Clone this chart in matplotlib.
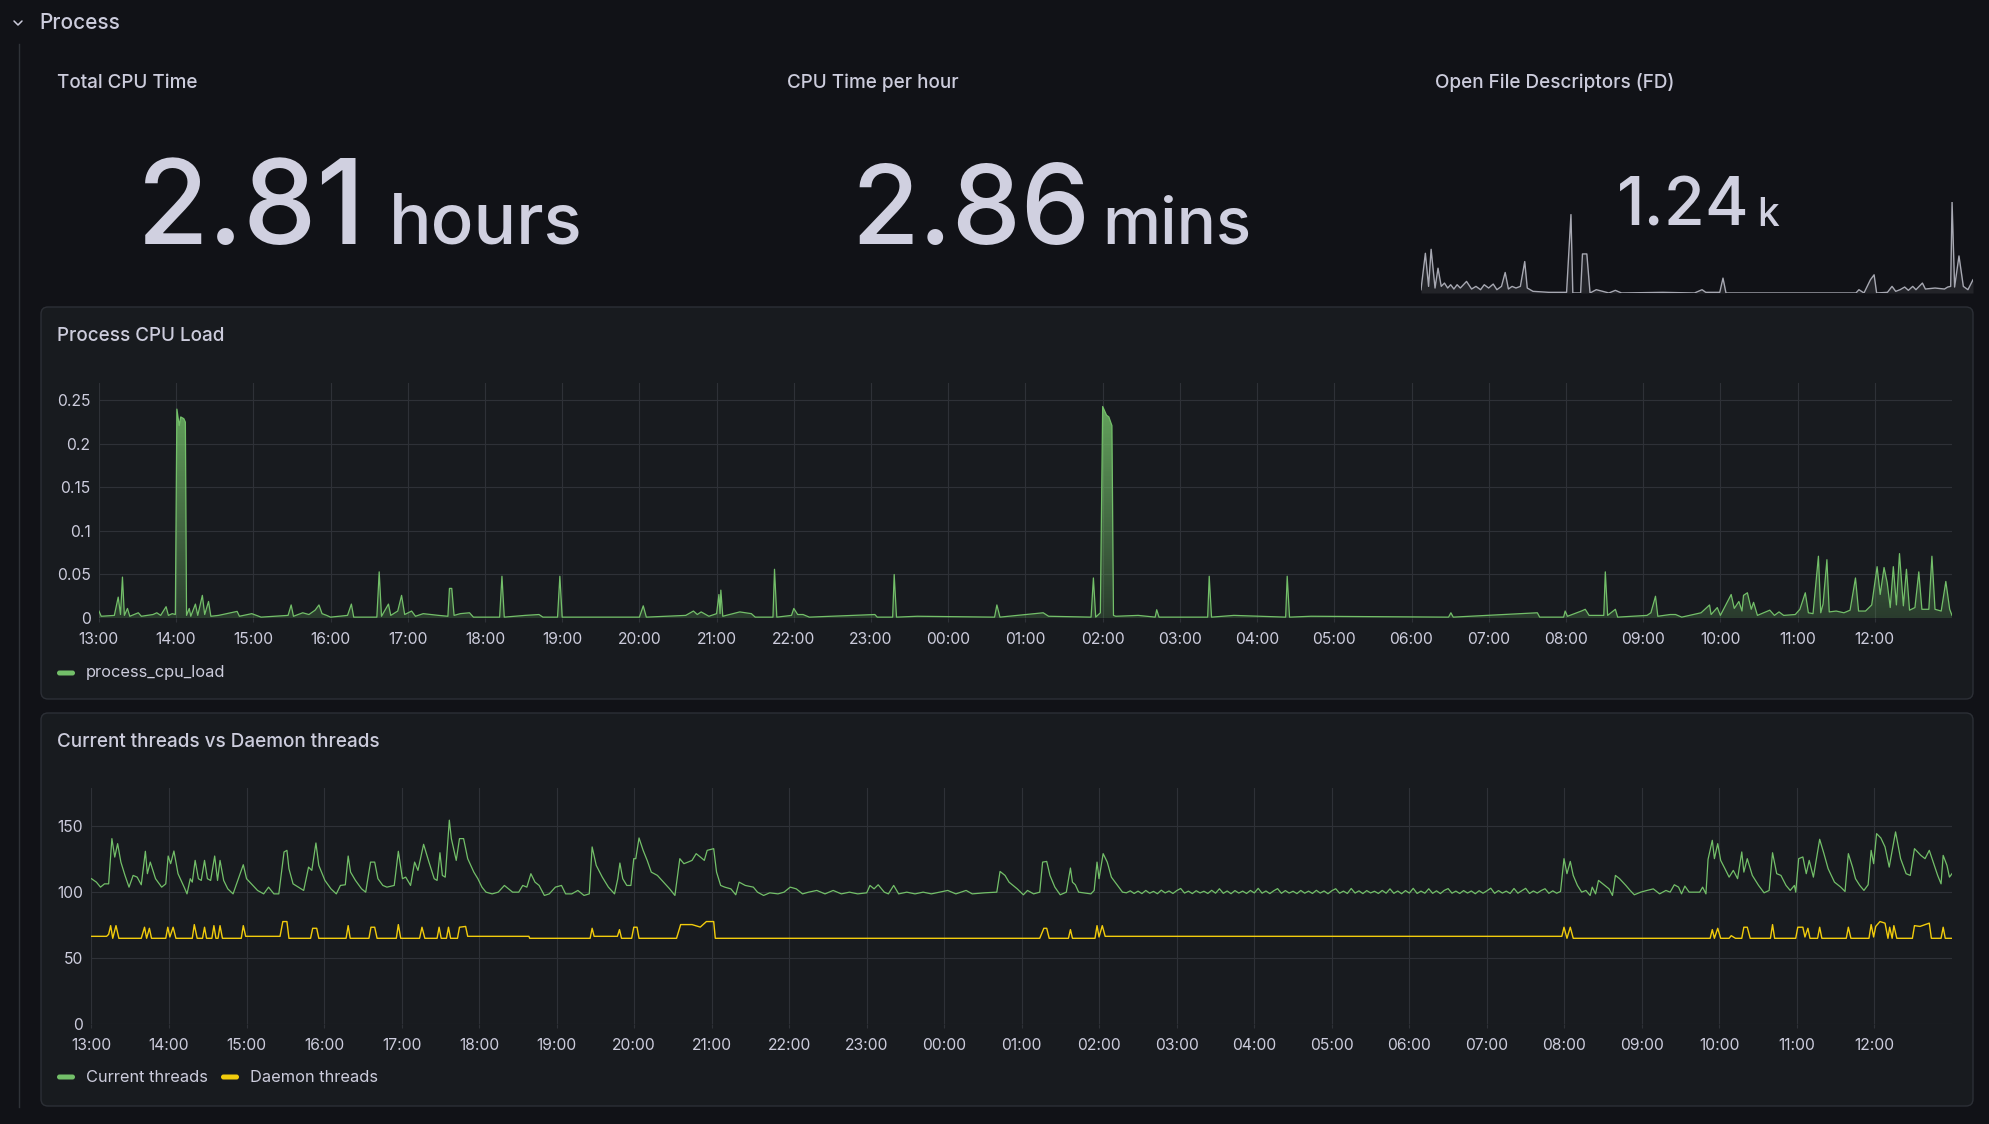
import numpy as np
import matplotlib
matplotlib.use("Agg")
import matplotlib.pyplot as plt
from matplotlib.patches import FancyBboxPatch

plt.rcParams['font.family'] = ['Inter', 'DejaVu Sans']

# ---------------- data ----------------
hour_labels = ["13:00", "14:00", "15:00", "16:00", "17:00", "18:00", "19:00", "20:00",
               "21:00", "22:00", "23:00", "00:00", "01:00", "02:00", "03:00", "04:00",
               "05:00", "06:00", "07:00", "08:00", "09:00", "10:00", "11:00", "12:00"]

total_cpu_time = 2.81      # hours
cpu_time_per_hour = 2.86   # mins

# Open file descriptors sparkline (hours since 13:00, count)
fd_hours = [0.00, 0.19, 0.33, 0.44, 0.61, 0.74, 0.88, 1.02, 1.16, 1.29, 1.43, 1.57, 1.71, 1.98,
            2.20, 2.39, 2.59, 2.75, 2.94, 3.14, 3.30, 3.50, 3.66, 3.80, 3.96, 4.13, 4.32, 4.51,
            4.62, 4.87, 5.56, 6.33, 6.52, 6.60, 6.94, 7.02, 7.21, 7.35, 7.62, 7.90, 8.17, 8.45,
            8.72, 10.51, 11.89, 12.22, 12.38, 12.99, 13.13, 13.26, 14.64, 17.39, 18.91, 19.04,
            19.26, 19.54, 19.70, 19.81, 20.28, 20.48, 20.64, 20.83, 21.03, 21.19, 21.38, 21.52,
            21.80, 21.93, 22.35, 22.76, 22.90, 23.03, 23.09, 23.20, 23.39, 23.58, 23.78, 24.00]
fd_values = [1060, 1720, 1120, 1792, 1090, 1450, 1120, 1180, 1090, 1150, 1072, 1150, 1090, 1210,
             1072, 1120, 1060, 1150, 1090, 1162, 1060, 1120, 1372, 1072, 1120, 1090, 1120, 1570,
             1090, 1030, 1012, 1012, 2422, 1000, 1000, 1708, 1708, 1000, 1060, 1030, 1000, 1048,
             1000, 1012, 1000, 1060, 1012, 1012, 1270, 1000, 1000, 1000, 1000, 1060,
             1000, 1240, 1330, 1000, 1012, 1120, 1030, 1060, 1108, 1048, 1120, 1060,
             1180, 1072, 1090, 1072, 1108, 1120, 2650, 1108, 1672, 1120, 1060, 1240]

# Process CPU load (hours since 13:00, load)
cpu_hours = [0.00, 0.03, 0.20, 0.25, 0.28, 0.305, 0.33, 0.37, 0.40, 0.51, 0.55, 0.70, 0.75, 0.80,
             0.87, 0.90, 0.95, 0.99, 1.01, 1.04, 1.06, 1.10, 1.12, 1.135, 1.17, 1.19, 1.25, 1.28,
             1.34, 1.37, 1.42, 1.45, 1.55, 1.79, 1.82, 1.98, 2.10, 2.45, 2.49, 2.52, 2.64, 2.72,
             2.80, 2.85, 2.89, 2.95, 3.00, 3.22, 3.27, 3.30, 3.60, 3.63, 3.66, 3.75, 3.78, 3.87,
             3.92, 3.96, 4.05, 4.10, 4.20, 4.30, 4.40, 4.52, 4.54, 4.57, 4.60, 4.68, 4.80, 4.85,
             5.19, 5.22, 5.25, 5.52, 5.70, 5.75, 5.94, 5.97, 6.00, 7.00, 7.05, 7.09, 7.60, 7.70,
             7.75, 7.80, 7.90, 8.00, 8.03, 8.045, 8.055, 8.08, 8.30, 8.45, 8.50, 8.73, 8.75, 8.78,
             8.97, 9.00, 9.05, 9.12, 9.20, 10.05, 10.08, 10.28, 10.30, 10.33, 10.60, 11.60, 11.63,
             11.67, 12.23, 12.30, 12.85, 12.88, 12.91, 12.97, 13.00, 13.05, 13.08, 13.12, 13.14,
             13.17, 13.46, 13.68, 13.70, 13.73, 14.36, 14.38, 14.41, 14.70, 15.37, 15.39, 15.42,
             15.70, 17.48, 17.51, 17.54, 18.63, 18.66, 18.97, 18.99, 19.02, 19.08, 19.20, 19.25,
             19.30, 19.49, 19.51, 19.54, 19.64, 19.67, 20.05, 20.10, 20.16, 20.19, 20.35, 20.42,
             20.50, 20.75, 20.86, 20.88, 20.96, 21.00, 21.14, 21.18, 21.24, 21.28, 21.30, 21.35,
             21.40, 21.43, 21.48, 21.64, 21.70, 21.76, 21.82, 21.97, 22.03, 22.10, 22.14, 22.20,
             22.27, 22.30, 22.33, 22.38, 22.41, 22.50, 22.60, 22.68, 22.75, 22.79, 22.88, 22.96,
             23.03, 23.07, 23.12, 23.16, 23.20, 23.24, 23.28, 23.32, 23.37, 23.41, 23.45, 23.52,
             23.57, 23.61, 23.70, 23.74, 23.78, 23.86, 23.92, 23.97, 24.00]
cpu_load = [0.008, 0.002, 0.003, 0.024, 0.004, 0.047, 0.003, 0.011, 0.002, 0.006, 0.002, 0.004, 0.006, 0.003,
            0.013, 0.003, 0.005, 0.004, 0.240, 0.221, 0.231, 0.229, 0.225, 0.003, 0.011, 0.002, 0.016, 0.003,
            0.026, 0.004, 0.019, 0.002, 0.003, 0.0076, 0.002, 0.005, 0.001, 0.003, 0.015, 0.002, 0.006, 0.004,
            0.009, 0.015, 0.005, 0.003, 0.001, 0.003, 0.016, 0.001, 0.001, 0.053, 0.002, 0.016, 0.003, 0.008,
            0.026, 0.004, 0.008, 0.002, 0.005, 0.004, 0.003, 0.002, 0.034, 0.034, 0.003, 0.005, 0.006, 0.001,
            0.001, 0.048, 0.001, 0.003, 0.004, 0.001, 0.001, 0.048, 0.001, 0.001, 0.014, 0.001, 0.003, 0.008,
            0.004, 0.007, 0.002, 0.005, 0.027, 0.005, 0.032, 0.002, 0.007, 0.005, 0.001, 0.001, 0.056, 0.001,
            0.003, 0.011, 0.004, 0.004, 0.001, 0.004, 0.001, 0.001, 0.050, 0.001, 0.002, 0.001, 0.015,
            0.001, 0.006, 0.002, 0.001, 0.046, 0.001, 0.006, 0.243, 0.233, 0.231, 0.221, 0.003,
            0.002, 0.003, 0.001, 0.0095, 0.001, 0.001, 0.048, 0.001, 0.003, 0.001, 0.048, 0.001,
            0.002, 0.001, 0.006, 0.001, 0.006, 0.001, 0.001, 0.008, 0.002, 0.004, 0.008, 0.010,
            0.003, 0.003, 0.053, 0.003, 0.010, 0.001, 0.003, 0.006, 0.025, 0.002, 0.004, 0.004,
            0.001, 0.006, 0.015, 0.004, 0.012, 0.003, 0.027, 0.011, 0.019, 0.008, 0.026, 0.029,
            0.010, 0.018, 0.003, 0.009, 0.003, 0.007, 0.003, 0.004, 0.010, 0.029, 0.006, 0.005,
            0.071, 0.006, 0.016, 0.067, 0.007, 0.008, 0.006, 0.009, 0.046, 0.008, 0.008, 0.015,
            0.059, 0.027, 0.058, 0.041, 0.012, 0.059, 0.015, 0.074, 0.014, 0.056, 0.009, 0.012,
            0.053, 0.010, 0.010, 0.071, 0.010, 0.008, 0.042, 0.010, 0.003]

# Current threads (hours since 13:00, count) -- busy stretches
cur_hours_a = [0.000, 0.063, 0.116, 0.168, 0.221, 0.263, 0.300, 0.337, 0.379, 0.432, 0.484, 0.537,
               0.589, 0.642, 0.695, 0.721, 0.758, 0.826, 0.905, 0.958, 0.989, 1.021, 1.063, 1.116,
               1.195, 1.232, 1.274, 1.300, 1.337, 1.379, 1.416, 1.458, 1.495, 1.537, 1.589, 1.626,
               1.658, 1.705, 1.758, 1.826, 1.879, 1.958, 2.000, 2.063, 2.142, 2.221, 2.284, 2.353,
               2.416, 2.484, 2.521, 2.547, 2.600, 2.668, 2.737, 2.800, 2.842, 2.895, 2.932, 3.011,
               3.089, 3.158, 3.211, 3.274, 3.311, 3.342, 3.405, 3.484, 3.537, 3.600, 3.653, 3.695,
               3.758, 3.811, 3.905, 3.958, 4.011, 4.053, 4.116, 4.168, 4.211, 4.284, 4.353, 4.421,
               4.458, 4.495, 4.526, 4.563, 4.616, 4.642, 4.705, 4.747, 4.800, 4.853, 4.932, 4.984,
               5.037, 5.089, 5.168, 5.247, 5.326, 5.379, 5.432, 5.511, 5.563, 5.616, 5.668, 5.721,
               5.774, 5.842, 5.905, 5.984, 6.063, 6.116, 6.195, 6.274, 6.353, 6.421, 6.458, 6.511,
               6.589, 6.668, 6.747, 6.789, 6.816, 6.853, 6.905, 6.958, 6.995, 7.021, 7.063, 7.116,
               7.168, 7.221, 7.300, 7.379, 7.458, 7.526, 7.589, 7.642, 7.695, 7.747, 7.800, 7.853,
               7.905, 7.942, 8.026, 8.063, 8.116, 8.169, 8.248, 8.311, 8.354, 8.433, 8.538, 8.591,
               8.670, 8.749, 8.855, 8.934, 9.013, 9.092, 9.172, 9.251, 9.356, 9.462, 9.567, 9.673,
               9.778, 9.884, 10.000, 10.042, 10.095, 10.148, 10.227, 10.280, 10.348, 10.412, 10.517,
               10.623, 10.728, 10.834, 10.939, 11.045, 11.150, 11.282, 11.361, 11.520, 11.678, 11.720,
               11.784, 11.836, 11.889, 11.942, 12.021, 12.074, 12.153, 12.232, 12.269, 12.322, 12.364,
               12.427, 12.496, 12.575, 12.628, 12.654, 12.691, 12.734, 12.892, 12.934, 12.971, 12.997,
               13.050, 13.103, 13.156, 13.235, 13.300]
cur_values_a = [110.2, 107.6, 103.8, 106.3, 106.3, 140.6, 126.6, 136.8, 122.8, 112.7, 103.8, 112.7,
                111.4, 105.6, 131.0, 114.0, 122.8, 110.2, 103.8, 106.3, 127.4, 121.6, 131.2, 114.0,
                103.8, 98.7, 110.2, 107.6, 124.1, 110.2, 108.9, 124.1, 110.2, 108.9, 127.4, 108.9,
                124.1, 108.9, 102.5, 98.7, 107.6, 120.8, 110.2, 106.3, 101.3, 98.7, 103.8, 98.7,
                98.7, 130.5, 131.7, 117.8, 106.3, 103.8, 101.3, 119.0, 116.5, 137.3, 120.3, 108.9,
                102.5, 98.7, 105.1, 105.6, 127.4, 115.2, 108.9, 102.5, 100.0, 122.8, 122.8, 110.2,
                105.1, 103.8, 105.1, 131.0, 110.2, 111.4, 105.1, 122.8, 116.5, 136.3, 122.8, 110.2,
                108.9, 129.9, 112.7, 111.4, 154.6, 140.6, 124.1, 140.6, 140.6, 125.4, 115.2, 110.2,
                103.8, 100.0, 98.7, 100.0, 105.1, 102.5, 100.0, 100.0, 105.1, 103.8, 114.0, 107.6,
                105.1, 97.5, 98.7, 103.8, 105.1, 98.7, 98.7, 101.3, 97.5, 98.7, 134.3, 120.3,
                111.4, 103.8, 98.7, 110.2, 122.1, 110.2, 105.1, 105.1, 125.4, 125.4, 141.1, 131.7,
                124.1, 115.2, 112.7, 107.6, 102.5, 97.5, 125.4, 121.6, 122.8, 124.1, 129.2, 126.7,
                124.1, 131.7, 133.0, 115.2, 105.1, 103.8, 102.5, 98.0, 107.6, 105.1, 103.8, 100.0,
                97.5, 99.5, 98.7, 100.0, 103.8, 102.5, 98.7, 100.0, 101.3, 98.7, 101.3, 98.7,
                100.0, 98.7, 99.5, 105.1, 102.5, 105.6, 100.0, 98.7, 105.1, 98.7, 100.0,
                98.7, 100.0, 98.7, 100.0, 101.3, 98.7, 101.3, 98.7, 99.5, 100.0, 115.7,
                112.7, 107.6, 105.1, 102.5, 98.0, 101.3, 98.7, 100.0, 122.8, 123.3, 112.7,
                103.8, 98.0, 100.0, 118.3, 107.6, 105.6, 100.0, 98.7, 101.3, 122.8, 110.2,
                129.2, 122.8, 111.4, 105.1, 100.0]
# quiet stretch 02:21 - 07:57, sampled every 3 minutes
cur_quiet_start = 13.35
cur_quiet_step = 0.05
cur_quiet_values = [99.5, 101.0, 99.0, 100.8, 98.9, 101.3, 99.2, 100.6, 98.8, 101.5, 99.4, 100.9, 99.0, 101.2,
                    102.8, 99.3, 100.8, 98.9, 101.1, 99.4, 100.7, 99.0, 101.4, 99.2, 102.6, 99.1, 100.9, 98.8,
                    101.2, 99.3, 100.8, 99.0, 101.3, 99.4, 102.9, 99.2, 100.9, 98.9, 101.0, 102.7, 99.1, 101.2,
                    99.3, 100.7, 98.9, 101.3, 99.2, 100.8, 99.0, 101.4, 99.3, 100.9, 98.8, 101.1, 102.6, 99.2,
                    100.8, 99.0, 102.8, 99.3, 101.0, 98.9, 101.2, 99.4, 100.7, 99.0, 101.3, 99.2, 102.5, 99.1,
                    100.9, 98.8, 101.2, 99.3, 102.9, 99.0, 100.8, 99.2, 102.6, 99.1, 101.0, 98.9, 101.3, 102.7,
                    99.2, 100.8, 99.0, 101.2, 99.3, 100.9, 98.8, 101.1, 99.2, 101.0, 103.0, 99.1, 101.2, 99.3,
                    100.8, 99.0, 102.8, 99.2, 101.1, 102.9, 99.0, 100.9, 99.3, 101.2, 102.6, 99.1, 101.0, 99.2,
                    100.5]
cur_hours_b = [18.995, 19.033, 19.076, 19.114, 19.168, 19.223, 19.277, 19.332, 19.359, 19.402, 19.440,
               19.495, 19.576, 19.620, 19.658, 19.712, 19.793, 19.848, 19.902, 19.984, 20.065, 20.147,
               20.228, 20.310, 20.364, 20.418, 20.473, 20.511, 20.554, 20.609, 20.745, 20.783, 20.826,
               20.853, 20.908, 20.935, 20.978, 21.016, 21.071, 21.125, 21.179, 21.234, 21.288, 21.315,
               21.359, 21.424, 21.505, 21.576, 21.641, 21.685, 21.739, 21.793, 21.859, 21.913, 21.967,
               21.984, 22.022, 22.076, 22.120, 22.158, 22.212, 22.293, 22.348, 22.402, 22.484, 22.565,
               22.620, 22.663, 22.717, 22.755, 22.810, 22.864, 22.918, 22.957, 22.989, 23.027, 23.082,
               23.136, 23.190, 23.272, 23.337, 23.408, 23.462, 23.516, 23.598, 23.652, 23.707, 23.750,
               23.815, 23.859, 23.886, 23.935, 23.967, 24.000]
cur_values_b = [125.4, 114.0, 123.3, 112.7, 105.1, 100.0, 101.3, 97.5, 103.8, 98.7, 108.9,
                106.3, 102.5, 97.5, 112.7, 110.2, 105.1, 101.3, 98.0, 100.0, 101.3, 102.5,
                98.7, 101.3, 100.0, 105.6, 103.8, 98.7, 104.6, 100.0, 100.0, 103.8, 98.7,
                124.9, 139.3, 125.4, 136.8, 124.1, 117.8, 111.4, 116.5, 110.2, 130.5, 115.2,
                125.4, 112.7, 105.1, 99.5, 101.3, 129.9, 114.0, 112.7, 105.1, 101.3, 105.1,
                100.0, 125.4, 126.7, 114.0, 124.1, 111.4, 140.1, 129.2, 117.8, 107.6, 103.8,
                100.5, 129.2, 119.0, 110.2, 105.1, 101.3, 105.6, 131.7, 121.6, 144.4, 141.1,
                134.3, 119.0, 145.7, 125.4, 114.0, 112.7, 133.0, 127.9, 125.4, 131.7, 124.1,
                112.7, 106.3, 127.9, 120.3, 111.4, 114.0]

# Daemon threads (hours since 13:00, count)
dmn_hours = [0.000, 0.195, 0.221, 0.247, 0.274, 0.316, 0.353, 0.642, 0.684, 0.711, 0.747, 0.774,
             0.958, 0.984, 1.011, 1.053, 1.089, 1.300, 1.326, 1.363, 1.432, 1.458, 1.484, 1.553,
             1.579, 1.605, 1.632, 1.658, 1.689, 1.932, 1.958, 1.989, 2.432, 2.468, 2.521, 2.547,
             2.826, 2.853, 2.905, 2.932, 3.284, 3.311, 3.337, 3.579, 3.605, 3.653, 3.684, 3.932,
             3.958, 3.989, 4.232, 4.263, 4.300, 4.458, 4.484, 4.511, 4.579, 4.605, 4.632, 4.721,
             4.747, 4.826, 4.853, 5.642, 5.653, 6.432, 6.458, 6.484, 6.784, 6.811, 6.837, 6.968,
             6.995, 7.037, 7.063, 7.547, 7.600, 7.747, 7.853, 7.932, 8.026, 8.047, 12.232, 12.285,
             12.322, 12.354, 12.602, 12.628, 12.654, 12.945, 12.971, 12.997, 13.039, 13.076, 18.967,
             18.995, 19.033, 19.076, 19.114, 20.880, 20.908, 20.935, 20.978, 21.016, 21.125, 21.152,
             21.207, 21.288, 21.315, 21.359, 21.397, 21.658, 21.685, 21.712, 21.984, 22.011, 22.076,
             22.103, 22.141, 22.168, 22.266, 22.293, 22.321, 22.636, 22.663, 22.696, 22.929, 22.957,
             22.989, 23.016, 23.071, 23.136, 23.174, 23.196, 23.228, 23.250, 23.288, 23.489, 23.516,
             23.587, 23.707, 23.734, 23.859, 23.886, 23.913, 24.000]
dmn_values = [66.5, 66.5, 68.0, 74.6, 65.0, 74.6, 65.0, 65.0, 73.4, 65.0, 72.6, 65.0,
              65.0, 73.4, 66.0, 73.4, 65.0, 65.0, 75.4, 65.0, 65.0, 73.4, 65.0, 65.0,
              74.6, 65.0, 65.0, 74.6, 65.0, 65.0, 74.6, 66.5, 66.5, 77.7, 77.7, 65.0,
              65.0, 72.6, 72.6, 65.0, 65.0, 74.6, 65.0, 65.0, 73.4, 73.4, 65.0, 65.0,
              75.4, 65.0, 65.0, 73.4, 65.0, 65.0, 73.4, 65.0, 65.0, 73.4, 65.0, 65.0,
              73.4, 74.0, 66.5, 66.5, 65.0, 65.0, 72.6, 66.5, 66.5, 71.6, 65.0, 65.0,
              73.4, 73.4, 65.0, 65.0, 75.4, 75.4, 73.5, 77.7, 77.7, 65.0, 65.0, 72.6,
              72.6, 65.0, 65.0, 71.6, 65.0, 65.0, 74.6, 66.0, 74.6, 66.5, 66.5,
              73.4, 65.0, 73.4, 65.0, 65.0, 71.6, 65.0, 72.6, 65.0, 65.0, 67.0,
              65.0, 65.0, 73.4, 73.4, 65.0, 65.0, 75.4, 65.0, 65.0, 73.4, 73.4,
              66.0, 72.6, 65.0, 65.0, 73.4, 65.0, 65.0, 73.4, 65.0, 65.0, 75.4,
              66.0, 74.0, 77.7, 76.5, 65.0, 73.4, 65.0, 74.6, 65.0, 65.0, 74.6,
              74.0, 76.5, 65.0, 65.0, 73.4, 65.0, 65.0]

# ---------------- styling ----------------
W, H = 1990, 1124
BG = '#111217'
PANEL = '#181b1f'
BORDER = '#2c2f36'
GRID = '#2e3137'
TXT = '#ccccdc'
STAT = '#d0d0e0'
GREEN = '#73BF69'
YELLOW = '#F2CC0C'

fig = plt.figure(figsize=(W / 100, H / 100), dpi=100)
fig.patch.set_facecolor(BG)

bg = fig.add_axes([0, 0, 1, 1])
bg.set_xlim(0, W)
bg.set_ylim(H, 0)
bg.axis('off')


def rect(x0, y0, x1, y1):
    return [x0 / W, 1 - y1 / H, (x1 - x0) / W, (y1 - y0) / H]


# row header
bg.plot([14, 18, 22], [21, 25, 21], color=TXT, lw=1.1, solid_capstyle='round')
bg.text(39, 23, "Process", color=TXT, fontsize=15, fontweight=500, va='center', ha='left')
bg.plot([19, 19], [44, 1107], color='#2f3238', lw=1)

# panels
for (x0, y0, x1, y1) in [(41, 307, 1973, 699), (41, 713, 1973, 1106)]:
    bg.add_patch(FancyBboxPatch((x0, y0), x1 - x0, y1 - y0,
                                boxstyle='round,pad=0,rounding_size=7',
                                fc=PANEL, ec=BORDER, lw=1, zorder=0))

# stat titles
for x, t in [(57, "Total CPU Time"), (787, "CPU Time per hour"), (1435, "Open File Descriptors (FD)")]:
    bg.text(x, 83, t, color=TXT, fontsize=13.6, fontweight=500, va='center', ha='left')

# stat values
bg.text(137, 244, f"{total_cpu_time:.2f}", color=STAT, fontsize=84, fontweight=500, va='baseline', ha='left')
bg.text(389, 244, "hours", color=STAT, fontsize=51, fontweight=500, va='baseline', ha='left')
bg.text(851, 244, f"{cpu_time_per_hour:.2f}", color=STAT, fontsize=79, fontweight=500, va='baseline', ha='left')
bg.text(1102, 244, "mins", color=STAT, fontsize=47, fontweight=500, va='baseline', ha='left')
bg.text(1617, 226, f"{fd_values[-1] / 1000:.2f}", color=STAT, fontsize=48, fontweight=500, va='baseline', ha='left')
bg.text(1757, 226, "k", color=STAT, fontsize=28, fontweight=500, va='baseline', ha='left')

# sparkline
sp = fig.add_axes(rect(1421, 202, 1973, 293))
sp.set_facecolor('none')
sp.plot(fd_hours, fd_values, color='#a7a8b2', lw=1.0)
sp.fill_between(fd_hours, fd_values, min(fd_values), color='#a7a8b2', alpha=0.12, lw=0)
sp.set_xlim(0, 24)
sp.set_ylim(min(fd_values), max(fd_values))
sp.axis('off')

# panel titles
bg.text(57, 336, "Process CPU Load", color=TXT, fontsize=13.6, fontweight=500, va='center', ha='left')
bg.text(57, 742, "Current threads vs Daemon threads", color=TXT, fontsize=13.6, fontweight=500,
        va='center', ha='left')


def style_time_axis(ax, ylim, yticks, ylabels):
    ax.set_facecolor('none')
    ax.set_xlim(0, 24)
    ax.set_ylim(*ylim)
    ax.set_xticks(range(len(hour_labels)))
    ax.set_xticklabels(hour_labels)
    ax.set_yticks(yticks)
    ax.set_yticklabels(ylabels)
    for s in ax.spines.values():
        s.set_visible(False)
    ax.grid(True, color=GRID, lw=0.8, zorder=0)
    ax.set_axisbelow(True)
    ax.tick_params(axis='x', length=3, width=0.8, color=GRID, pad=7, labelsize=11.3, labelcolor=TXT)
    ax.tick_params(axis='y', length=0, pad=6, labelsize=11.3, labelcolor=TXT)


# CPU load
ax1 = fig.add_axes(rect(98.9, 383, 1952, 618))
style_time_axis(ax1, (0, 0.27), [0, 0.05, 0.1, 0.15, 0.2, 0.25], ["0", "0.05", "0.1", "0.15", "0.2", "0.25"])
poly = ax1.fill_between(cpu_hours, cpu_load, 0, facecolor='none', edgecolor='none')
grad = np.zeros((256, 1, 4))
grad[..., :3] = matplotlib.colors.to_rgb(GREEN)
grad[:, 0, 3] = np.linspace(0.2, 0.9, 256)
im = ax1.imshow(grad, aspect='auto', extent=[0, 24, 0, 0.27], origin='lower', zorder=2,
                interpolation='bilinear')
im.set_clip_path(poly.get_paths()[0], transform=ax1.transData)
ax1.plot(cpu_hours, cpu_load, color=GREEN, lw=0.9, zorder=3)
ax1.set_xlim(0, 24)
ax1.set_ylim(0, 0.27)

# threads
cur_quiet_hours = [cur_quiet_start + cur_quiet_step * i for i in range(len(cur_quiet_values))]
cur_hours = cur_hours_a + cur_quiet_hours + cur_hours_b
cur_values = cur_values_a + cur_quiet_values + cur_values_b
ax2 = fig.add_axes(rect(91.5, 788, 1952, 1024))
style_time_axis(ax2, (0, 179), [0, 50, 100, 150], ["0", "50", "100", "150"])
ax2.plot(cur_hours, cur_values, color=GREEN, lw=0.9, zorder=3)
ax2.plot(dmn_hours, dmn_values, color=YELLOW, lw=1.0, zorder=3)

# legends
def legend_item(x, y, color, label):
    bg.add_patch(FancyBboxPatch((x, y - 2.5), 18, 5, boxstyle='round,pad=0,rounding_size=2.5',
                                fc=color, ec='none', zorder=2))
    bg.text(x + 29, y, label, color=TXT, fontsize=11.8, va='center', ha='left')


legend_item(57, 673, GREEN, "process_cpu_load")
legend_item(57, 1077, GREEN, "Current threads")
legend_item(221, 1077, YELLOW, "Daemon threads")

fig.savefig("out.png", dpi=100, facecolor=BG)
